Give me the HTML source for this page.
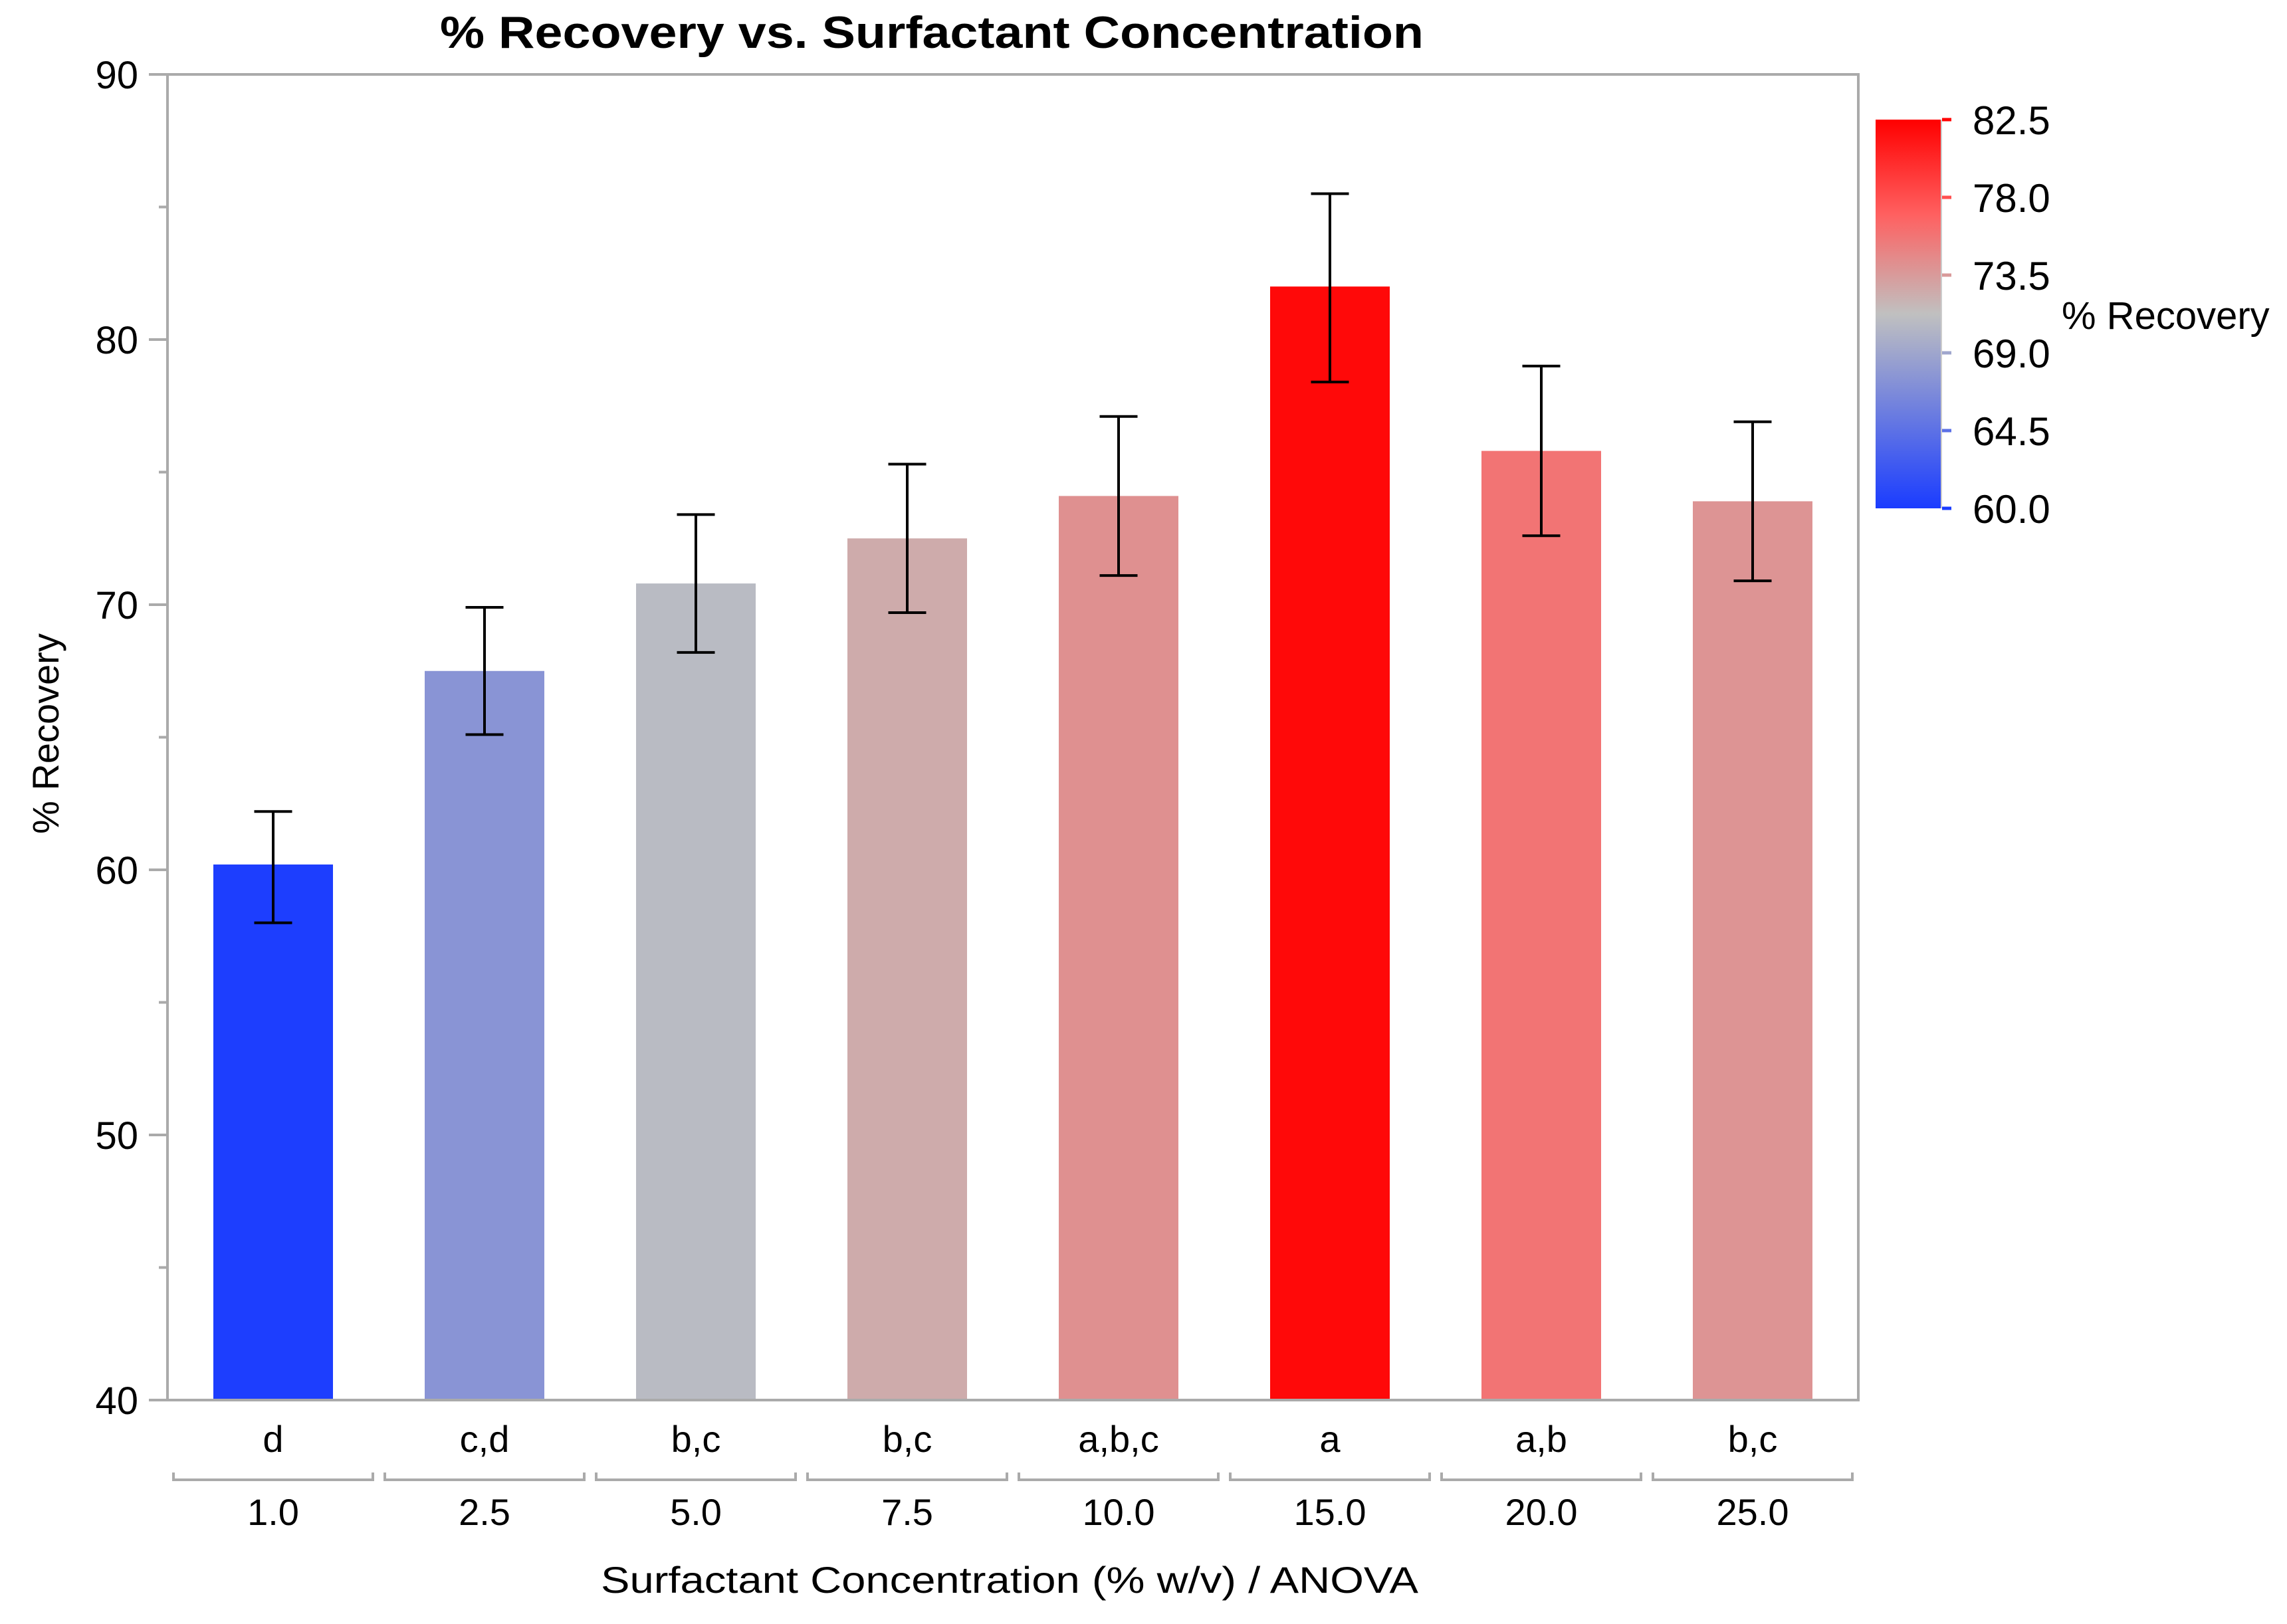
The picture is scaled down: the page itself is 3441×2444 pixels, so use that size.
<!DOCTYPE html>
<html><head><meta charset="utf-8"><style>
html,body{margin:0;padding:0;background:#fff}
svg text{font-family:"Liberation Sans",sans-serif;fill:#000}
</style></head><body>
<svg id="chart" width="3441" height="2439" viewBox="0 0 3441 2439" xmlns="http://www.w3.org/2000/svg">
<defs>
<linearGradient id="cb" x1="0" y1="1" x2="0" y2="0">
<stop offset="0" stop-color="#1a3cff"/><stop offset="0.5" stop-color="#c0c0c0"/><stop offset="0.7556" stop-color="#ff6060"/><stop offset="1" stop-color="#ff0000"/>
</linearGradient>
</defs>
<text x="1402" y="72" text-anchor="middle" font-size="68" font-weight="bold" textLength="1480" lengthAdjust="spacingAndGlyphs">% Recovery vs. Surfactant Concentration</text>
<rect x="252" y="112" width="2544" height="1995" fill="none" stroke="#aaa" stroke-width="4"/>
<g id="yaxis"></g>
<g id="bars"></g>
<g id="xaxis"></g>
<text transform="translate(88,1104) rotate(-90)" text-anchor="middle" font-size="56">% Recovery</text>
<text x="1519" y="2397" text-anchor="middle" font-size="56" textLength="1230" lengthAdjust="spacingAndGlyphs">Surfactant Concentration (% w/v) / ANOVA</text>
<rect x="2822" y="180" width="98" height="585" fill="url(#cb)"/>
<line x1="2921" y1="180" x2="2921" y2="765" stroke="#ccc" stroke-width="2"/>
<g id="cbticks"></g>
<text x="3102" y="495" font-size="58">% Recovery</text>
</svg>
<script>
const categories = ["1.0","2.5","5.0","7.5","10.0","15.0","20.0","25.0"];
const groups = ["d","c,d","b,c","b,c","a,b,c","a","a,b","b,c"];
const means = [60.2,67.5,70.8,72.5,74.1,82.0,75.8,73.9];
const errLow = [58.0,65.1,68.2,69.7,71.1,78.4,72.6,70.9];
const errHigh = [62.2,69.9,73.4,75.3,77.1,85.5,79.0,76.9];
const yTicks = [40,50,60,70,80,90];
const yMinor = [45,55,65,75,85];
const cbTicks = [60.0,64.5,69.0,73.5,78.0,82.5];

const NS="http://www.w3.org/2000/svg";
const X0=252,X1=2796,Y0=2107,Y1=112,YMIN=40,YMAX=90;
const band=(X1-X0)/categories.length;
const xc=i=>X0+band*(i+0.5);
const y=v=>Y0-(v-YMIN)/(YMAX-YMIN)*(Y0-Y1);
const CB0=765,CB1=180,CMIN=60,CMAX=82.5;
const cy=v=>CB0-(v-CMIN)/(CMAX-CMIN)*(CB0-CB1);
const stops=[[60,[26,60,255]],[71.25,[192,192,192]],[77,[255,96,96]],[82.5,[255,0,0]]];
function col(v){
  v=Math.max(CMIN,Math.min(CMAX,v));
  for(let k=0;k<stops.length-1;k++){
    const [a,ca]=stops[k],[b,cb]=stops[k+1];
    if(v<=b){const s=(v-a)/(b-a);return "rgb("+ca.map((q,j)=>Math.round(q+(cb[j]-q)*s)).join(",")+")";}
  }
  return "rgb(255,0,0)";
}
function mk(tag,attrs,parent,text){
  const e=document.createElementNS(NS,tag);
  for(const k in attrs)e.setAttribute(k,attrs[k]);
  if(text!==undefined)e.textContent=text;
  parent.appendChild(e);return e;
}
const ya=document.getElementById('yaxis');
yTicks.forEach(v=>{
  const l=mk('line',{x1:224,x2:252,y1:y(v),y2:y(v),stroke:'#aaa','stroke-width':4},ya);
  
  
  const t=mk('text',{x:208,y:y(v)+21,'text-anchor':'end','font-size':58},ya,String(v));
  
  
});
yMinor.forEach(v=>{
  const l=mk('line',{x1:239,x2:252,y1:y(v),y2:y(v),stroke:'#aaa','stroke-width':4},ya);
  
  
});
const bg=document.getElementById('bars');
const bw=180,cap=57;
means.forEach((v,i)=>{
  const r=mk('rect',{x:xc(i)-bw/2,y:y(v),width:bw,height:Y0-2-y(v),fill:col(v)},bg);
  
  
  const g=mk('g',{stroke:'#000','stroke-width':4},bg);
  
  
  mk('line',{x1:xc(i),x2:xc(i),y1:y(errHigh[i]),y2:y(errLow[i])},g);
  mk('line',{x1:xc(i)-cap/2,x2:xc(i)+cap/2,y1:y(errHigh[i]),y2:y(errHigh[i])},g);
  mk('line',{x1:xc(i)-cap/2,x2:xc(i)+cap/2,y1:y(errLow[i]),y2:y(errLow[i])},g);
});
const xa=document.getElementById('xaxis');
categories.forEach((c,i)=>{
  const t=mk('text',{x:xc(i),y:2185,'text-anchor':'middle','font-size':56},xa,groups[i]);
  
  
  const L=X0+band*i+9,R=X0+band*(i+1)-9;
  const p=mk('path',{d:`M${L},2216 V2227 H${R} V2216`,fill:'none',stroke:'#aaa','stroke-width':4},xa);
  
  
  const n=mk('text',{x:xc(i),y:2295,'text-anchor':'middle','font-size':56},xa,c);
  
  
});
const cbt=document.getElementById('cbticks');
cbTicks.forEach(v=>{
  const l=mk('line',{x1:2922,x2:2936,y1:cy(v),y2:cy(v),stroke:col(v),'stroke-width':5},cbt);
  
  
  const t=mk('text',{x:2968,y:cy(v)+22,'font-size':60},cbt,v.toFixed(1));
  
  
});
</script>
</body></html>
